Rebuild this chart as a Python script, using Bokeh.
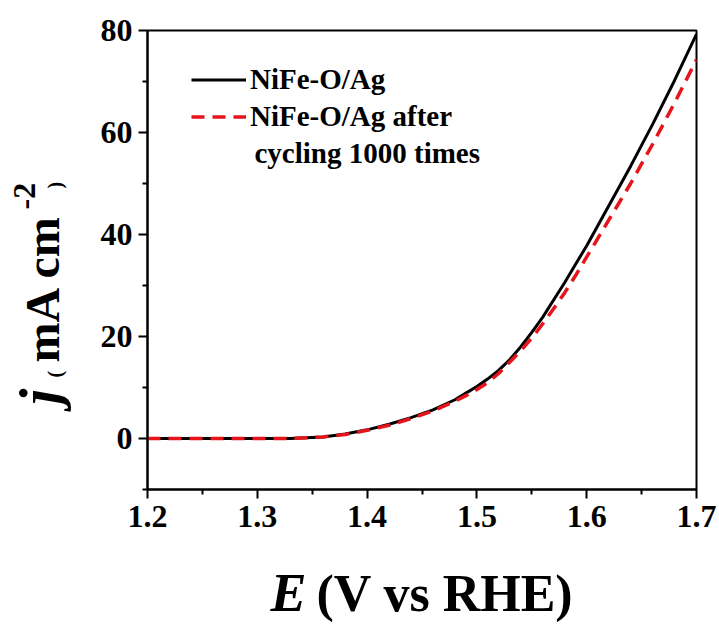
import math
from bokeh.plotting import figure
from bokeh.models import Range1d, FixedTicker, Label, Legend, LegendItem
from bokeh.embed import file_html
from bokeh.resources import INLINE

# ---- data ----
e_fresh = [1.20, 1.25, 1.30, 1.33, 1.36, 1.38, 1.40, 1.42, 1.44, 1.46, 1.48, 1.49,
           1.50, 1.51, 1.52, 1.53, 1.54, 1.55, 1.56, 1.57, 1.58, 1.59, 1.60,
           1.62, 1.64, 1.66, 1.68, 1.70]
j_fresh = [0.0, 0.0, 0.0, 0.0, 0.3, 0.9, 1.7, 2.8, 4.1, 5.6, 7.6, 8.9,
           10.2, 11.7, 13.4, 15.5, 18.0, 20.8, 23.8, 27.2, 30.6, 34.2, 37.8,
           45.6, 53.4, 61.6, 70.2, 79.3]
e_cycled = [1.20, 1.25, 1.30, 1.33, 1.36, 1.38, 1.40, 1.42, 1.44, 1.46, 1.48, 1.49,
            1.50, 1.51, 1.52, 1.53, 1.54, 1.55, 1.56, 1.57, 1.58, 1.59, 1.60,
            1.62, 1.64, 1.66, 1.68, 1.70]
j_cycled = [0.0, 0.0, 0.0, 0.0, 0.3, 0.8, 1.6, 2.6, 3.9, 5.4, 7.3, 8.4,
            9.6, 11.0, 12.8, 15.0, 17.2, 19.7, 22.5, 25.5, 28.6, 32.0, 35.6,
            42.8, 50.0, 57.7, 65.8, 74.3]
series_labels = ["NiFe-O/Ag", "NiFe-O/Ag after", "cycling 1000 times"]
x_ticks = [1.2, 1.3, 1.4, 1.5, 1.6, 1.7]
x_minor = [1.25, 1.35, 1.45, 1.55, 1.65]
y_ticks = [0, 20, 40, 60, 80]
y_minor = [-10, 10, 30, 50, 70]

X0, X1 = 1.2, 1.7
Y0, Y1 = -10, 80
W, H = 719, 624
ML, MR, MT, MB = 147, 23, 30, 135
FW, FH = W - ML - MR, H - MT - MB

def dx(px):
    return X0 + (px - ML) / FW * (X1 - X0)

def dy(py):
    return Y1 - (py - MT) / FH * (Y1 - Y0)

FONT = "Liberation Serif"
SH = 0.36  # baseline correction, in em

p = figure(width=W, height=H, output_backend="svg", toolbar_location=None,
           x_range=Range1d(X0, X1), y_range=Range1d(Y0, Y1),
           min_border_left=ML, min_border_right=MR, min_border_top=MT,
           min_border_bottom=MB)
p.background_fill_color = "white"
p.border_fill_color = "white"
p.outline_line_color = "black"
p.outline_line_width = 2
p.xgrid.visible = False
p.ygrid.visible = False

p.xaxis.ticker = FixedTicker(ticks=x_ticks, minor_ticks=x_minor)
p.yaxis.ticker = FixedTicker(ticks=y_ticks, minor_ticks=y_minor)
for ax in (p.xaxis[0], p.yaxis[0]):
    ax.axis_line_width = 2
    ax.axis_line_color = "black"
    ax.major_tick_line_width = 2
    ax.minor_tick_line_width = 2
    ax.major_tick_out = 9
    ax.major_tick_in = 0
    ax.minor_tick_out = 5
    ax.minor_tick_in = 0
    ax.major_label_text_font = FONT
    ax.major_label_text_font_style = "bold"
    ax.major_label_text_font_size = "32px"
    ax.major_label_text_color = "black"
p.xaxis.major_label_standoff = 7
p.yaxis.major_label_standoff = 6

r1 = p.line(e_fresh, j_fresh, line_color="black", line_width=3)
r2 = p.line(e_cycled, j_cycled, line_color="#e8141c", line_width=3.5, line_dash="13 8")

legend = Legend(items=[LegendItem(label=series_labels[0], renderers=[r1]),
                       LegendItem(label=series_labels[1], renderers=[r2])],
                location=(44, 356))
legend.border_line_color = None
legend.background_fill_alpha = 0
legend.label_text_font = FONT
legend.label_text_font_style = "bold"
legend.label_text_font_size = "29px"
legend.label_text_color = "black"
legend.glyph_width = 55
legend.glyph_height = 33
legend.label_standoff = 4
legend.spacing = 4
legend.padding = 0
legend.margin = 0
legend.label_height = 33
p.add_layout(legend, "center")

p.add_layout(Label(x=dx(254), y=dy(163 - SH * 29), text=series_labels[2], text_font=FONT,
                   text_font_style="bold", text_font_size="29px",
                   text_baseline="alphabetic", text_align="left", text_color="black"))

# Axis titles: annotations placed in the side panels (so they are not clipped
# to the frame); positions in data units map through the frame's own scales.
def lab(px, py, txt, size, style="bold", angle=0.0, side="below"):
    p.add_layout(Label(x=dx(px), y=dy(py), text=txt, angle=angle, text_font=FONT,
                       text_font_style=style, text_font_size=f"{size}px",
                       text_baseline="alphabetic", text_align="left",
                       text_color="black"), side)

A = math.pi / 2
# x title (baseline ~612)
lab(270, 612 - SH * 54, "E", 54, "bold italic", side="left")
lab(316, 612 - SH * 52, "(V vs RHE)", 52, side="below")
# y title (rotated, baseline x ~60)
lab(60 - SH * 56, 404, "j", 56, "bold italic", A, side="below")
lab(62 - SH * 20, 377, "(", 20, "bold", A, side="below")
lab(59 - SH * 48, 362, "mA cm", 48, "bold", A, side="left")
lab(36 - SH * 32, 209, "-2", 32, "bold", A, side="above")
lab(62 - SH * 20, 188, ")", 20, "bold", A, side="right")

open("out.html", "w").write(file_html(p, INLINE))
